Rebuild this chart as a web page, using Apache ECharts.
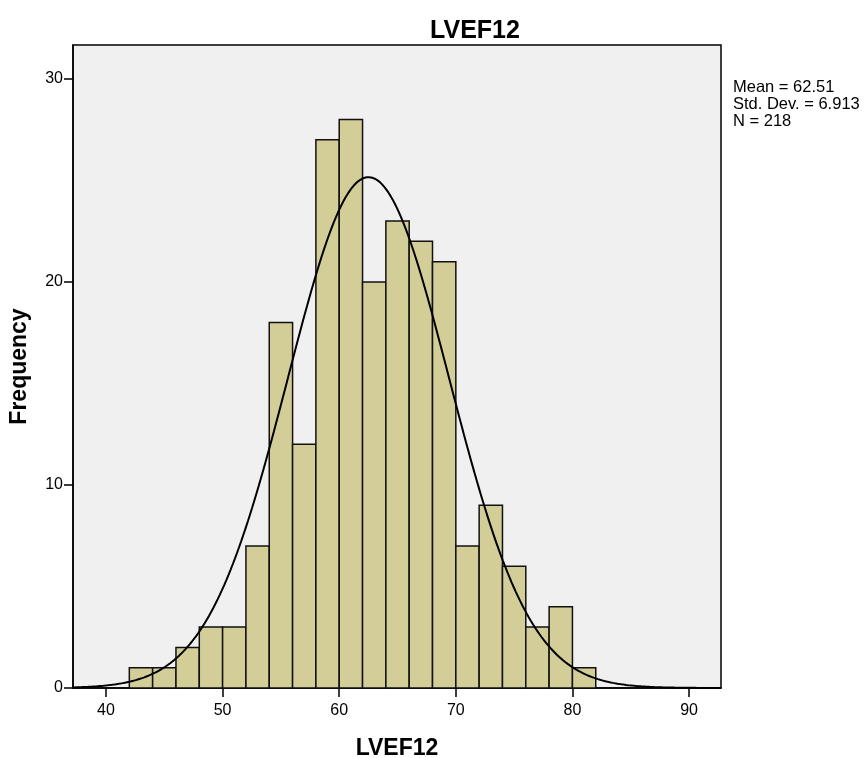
<!DOCTYPE html>
<html><head><meta charset="utf-8">
<script src="https://cdn.jsdelivr.net/npm/echarts@6/dist/echarts.min.js"></script>
<style>html,body{margin:0;padding:0;background:#fff}#c{width:868px;height:758px}</style>
</head><body><div id="c"></div>
<script>
// Histogram bins (LVEF12), width 2
const binStarts = [42,44,46,48,50,52,54,56,58,60,62,64,66,68,70,72,74,76,78,80];
const binWidth = 2;
const frequencies = [1,1,2,3,3,7,18,12,27,28,20,23,22,21,7,9,6,3,4,1];
const xTicks = [40,50,60,70,80,90];
const yTicks = [0,10,20,30];
const statsLines = ['Mean = 62.51','Std. Dev. = 6.913','N = 218'];
const mean = 62.51, sd = 6.913, n = 218;
const xMin = 37.17, xMax = 92.74, yMax = 31.67;

// Fitted normal curve defined by the chart's stated mean, SD and N
const curve = [];
for (let i = 0; i <= 300; i++) {
  const x = xMin + (xMax - xMin) * i / 300;
  const y = n * binWidth / (sd * Math.sqrt(2 * Math.PI)) * Math.exp(-0.5 * Math.pow((x - mean) / sd, 2));
  curve.push([x, y]);
}
const barData = binStarts.map((s, i) => [s, s + binWidth, frequencies[i]]);

const font = '"Liberation Sans", Arial, sans-serif';
const chart = echarts.init(document.getElementById('c'), null, {renderer: 'canvas'});
chart.setOption({
  animation: false,
  backgroundColor: '#ffffff',
  title: {
    text: 'LVEF12', left: 470, top: 14, textAlign: 'center',
    textStyle: {fontFamily: font, fontWeight: 'bold', fontSize: 25, color: '#000'}
  },
  grid: {left: 73, right: 147, top: 45, bottom: 70, outerBoundsMode: 'none', containLabel: false,
    show: true, backgroundColor: '#F0F0F0', borderColor: '#000', borderWidth: 1.5},
  xAxis: {
    type: 'value', min: xMin, max: xMax,
    name: 'LVEF12', nameLocation: 'middle', nameGap: 49,
    nameTextStyle: {fontFamily: font, fontWeight: 'bold', fontSize: 23, color: '#000'},
    axisLine: {show: true, onZero: false, lineStyle: {color: '#000', width: 1.5}},
    axisTick: {show: true, length: 9, customValues: xTicks, lineStyle: {color: '#000', width: 1.5}},
    axisLabel: {customValues: xTicks, fontFamily: font, fontSize: 16, color: '#000', margin: 15, showMinLabel: true, showMaxLabel: true},
    splitLine: {show: false}
  },
  yAxis: {
    type: 'value', min: 0, max: yMax, interval: 10,
    name: 'Frequency', nameLocation: 'middle', nameGap: 42, nameRotate: 90,
    nameTextStyle: {fontFamily: font, fontWeight: 'bold', fontSize: 23, color: '#000'},
    axisLine: {show: true, lineStyle: {color: '#000', width: 1.5}},
    axisTick: {show: true, length: 9, customValues: yTicks, lineStyle: {color: '#000', width: 1.5}},
    axisLabel: {customValues: yTicks, fontFamily: font, fontSize: 16, color: '#000', margin: 10},
    splitLine: {show: false}
  },
  graphic: [{
    type: 'text', left: 733, top: 79,
    style: {text: statsLines.join('\n'), fontFamily: font, fontSize: 16.5, lineHeight: 17, fill: '#000'}
  }],
  series: [{
    type: 'custom',
    data: barData,
    encode: {x: [0, 1], y: 2},
    renderItem: function (params, api) {
      const p0 = api.coord([api.value(0), 0]);
      const p1 = api.coord([api.value(1), api.value(2)]);
      return {
        type: 'rect',
        shape: {x: p0[0], y: p1[1], width: p1[0] - p0[0], height: p0[1] - p1[1]},
        style: {fill: '#D3CE97', stroke: '#111', lineWidth: 1.5}
      };
    },
    z: 2
  }, {
    type: 'line', data: curve, showSymbol: false, smooth: false,
    lineStyle: {color: '#000', width: 2}, z: 3, silent: true
  }]
});
</script></body></html>
